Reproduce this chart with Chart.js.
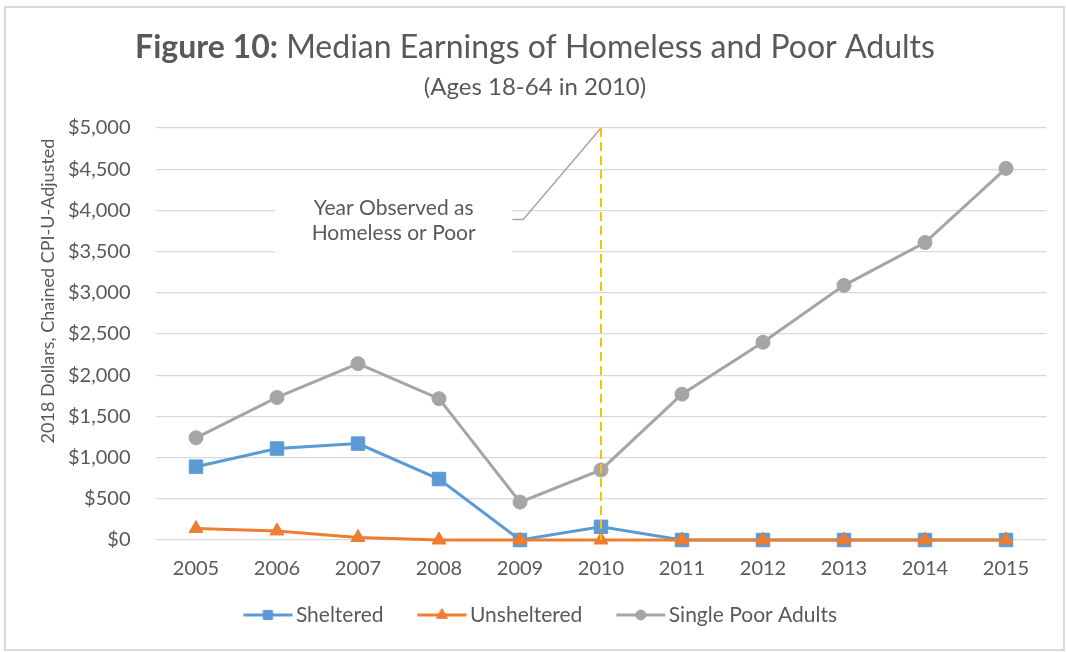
<!DOCTYPE html>
<html>
<head>
<meta charset="utf-8">
<script src="https://cdn.jsdelivr.net/npm/chart.js@4.4.0/dist/chart.umd.min.js"></script>
<style>
  html, body { margin: 0; padding: 0; background: #fff; }
  canvas { display: block; }
</style>
</head>
<body>
<canvas id="earnings-chart" width="1066" height="652"></canvas>
<script>
// Median earnings of homeless and poor adults (ages 18-64 in 2010), 2018 dollars

const years       = ['2005', '2006', '2007', '2008', '2009', '2010', '2011', '2012', '2013', '2014', '2015'];
const sheltered   = [890, 1110, 1170, 740, 0, 160, 0, 0, 0, 0, 0];
const unsheltered = [140, 110, 30, 0, 0, 0, 0, 0, 0, 0, 0];
const singlePoor  = [1240, 1730, 2140, 1715, 460, 850, 1770, 2400, 3090, 3610, 4510];

const seriesNames = ['Sheltered', 'Unsheltered', 'Single Poor Adults'];
const yMin = 0, yMax = 5000, yStep = 500;

const titleBold    = 'Figure 10:';
const titleRest    = ' Median Earnings of Homeless and Poor Adults';
const subtitle     = '(Ages 18-64 in 2010)';
const yAxisTitle   = '2018 Dollars, Chained CPI-U-Adjusted';
const observedYear = '2010';
const calloutLines = ['Year Observed as', 'Homeless or Poor'];

const TEXT = '#595959';
const GRID = '#D9D9D9';
const FONT = 'Lato, "Open Sans", sans-serif';
const BLUE = '#5B9BD5', ORANGE = '#ED7D31', GRAY = '#A5A5A5', GOLD = '#FFC000';

const money = (v) => '$' + Number(v).toLocaleString('en-US');

// ── Legend swatch: short line with the series marker on it ──────────────────
// the swatch box is 66px wide; the line sits in its right part so the
// empty left part acts as spacing between legend entries
function legendIcon(color, style, radius) {
    const c = document.createElement('canvas');
    c.width = 82;
    c.height = 18;
    const g = c.getContext('2d');
    g.strokeStyle = color;
    g.fillStyle = color;
    g.lineWidth = 3;
    g.beginPath();
    g.moveTo(32, 9);
    g.lineTo(81, 9);
    g.stroke();
    g.lineWidth = 1;
    Chart.helpers.drawPoint(g, { pointStyle: style, radius: radius, rotation: 0, borderWidth: 1 }, 56.5, 9);
    return c;
}

// ── Frame, headings and rotated axis title ───────────────────────────────────
const framePlugin = {
    id: 'frame',
    beforeDraw(chart) {
        const ctx = chart.ctx;
        ctx.save();
        ctx.fillStyle = '#fff';
        ctx.fillRect(0, 0, chart.width, chart.height);
        ctx.strokeStyle = '#D9D9D9';
        ctx.lineWidth = 2;
        ctx.strokeRect(5, 7, chart.width - 7, chart.height - 9);

        ctx.fillStyle = TEXT;
        ctx.textBaseline = 'alphabetic';
        ctx.textAlign = 'left';
        ctx.font = 'bold 32px ' + FONT;
        const wb = ctx.measureText(titleBold).width;
        ctx.font = '32px ' + FONT;
        const wr = ctx.measureText(titleRest).width;
        const x0 = 535 - (wb + wr) / 2;
        ctx.font = 'bold 32px ' + FONT;
        ctx.fillText(titleBold, x0, 58);
        ctx.font = '32px ' + FONT;
        ctx.fillText(titleRest, x0 + wb, 58);

        ctx.textAlign = 'center';
        ctx.font = '24px ' + FONT;
        ctx.fillText(subtitle, 535, 95);

        ctx.translate(48, 291);
        ctx.rotate(-Math.PI / 2);
        ctx.textBaseline = 'middle';
        ctx.font = '18px ' + FONT;
        ctx.fillText(yAxisTitle, 0, 0);
        ctx.restore();
    },
    afterLayout(chart) {
        // nudge the legend row a little to the right
        chart.legend.left += 5;
        chart.legend.right += 5;
    }
};

// ── Observed-year marker with its callout ────────────────────────────────────
const observedPlugin = {
    id: 'observed',
    beforeDatasetsDraw(chart) {
        const { ctx, scales: { x, y } } = chart;
        const left = x.getPixelForValue(0.975), right = x.getPixelForValue(3.905);
        const top = y.getPixelForValue(4190), bottom = y.getPixelForValue(3376);
        ctx.save();
        ctx.fillStyle = '#fff';
        ctx.fillRect(left, top, right - left, bottom - top);
        ctx.fillStyle = TEXT;
        ctx.font = '21px ' + FONT;
        ctx.textAlign = 'center';
        ctx.textBaseline = 'alphabetic';
        const cx = x.getPixelForValue(2.44);
        ctx.fillText(calloutLines[0], cx, y.getPixelForValue(3950));
        ctx.fillText(calloutLines[1], cx, y.getPixelForValue(3645));
        ctx.restore();
    },
    afterDatasetsDraw(chart) {
        const { ctx, scales: { x, y } } = chart;
        const px = x.getPixelForValue(years.indexOf(observedYear));
        const top = y.getPixelForValue(yMax), bottom = y.getPixelForValue(yMin);
        ctx.save();
        // leader line from the label to the top of the marker
        const bendX = x.getPixelForValue(4.04), endX = x.getPixelForValue(3.905);
        const bendY = y.getPixelForValue(3890);
        ctx.strokeStyle = '#A6A6A6';
        ctx.lineWidth = 1.5;
        ctx.beginPath();
        ctx.moveTo(endX, bendY);
        ctx.lineTo(bendX, bendY);
        ctx.lineTo(px, top);
        ctx.stroke();

        ctx.strokeStyle = GOLD;
        ctx.lineWidth = 2;
        ctx.setLineDash([9, 5]);
        ctx.beginPath();
        ctx.moveTo(px, top);
        ctx.lineTo(px, bottom);
        ctx.stroke();
        ctx.restore();
    }
};

const seriesStyle = [
    { data: sheltered,   color: BLUE,   point: 'rect',     radius: 9.5, legendRadius: 6.5, order: 3 },
    { data: unsheltered, color: ORANGE, point: 'triangle', radius: 8,   legendRadius: 6.5, order: 2 },
    { data: singlePoor,  color: GRAY,   point: 'circle',   radius: 7,   legendRadius: 5,   order: 1 }
];

const datasets = seriesStyle.map((s, i) => ({
    label: seriesNames[i],
    data: s.data,
    borderColor: s.color,
    backgroundColor: s.color,
    borderWidth: 3,
    pointStyle: s.point,
    pointRadius: s.radius,
    pointBackgroundColor: s.color,
    pointBorderColor: s.color,
    pointBorderWidth: 1,
    tension: 0,
    clip: false,
    order: s.order
}));

new Chart(document.getElementById('earnings-chart'), {
    type: 'line',
    data: { labels: years, datasets: datasets },
    options: {
        responsive: false,
        animation: false,
        layout: { padding: { top: 128, right: 19.5, bottom: 16.5, left: 0 } },
        plugins: {
            legend: {
                position: 'bottom',
                labels: {
                    usePointStyle: true,
                    pointStyleWidth: 66,
                    padding: 10,
                    color: TEXT,
                    font: { family: FONT, size: 21 },
                    generateLabels: (chart) => chart.data.datasets.map((ds, i) => ({
                        text: ds.label,
                        fillStyle: ds.borderColor,
                        strokeStyle: ds.borderColor,
                        fontColor: TEXT,
                        lineWidth: 0,
                        pointStyle: legendIcon(ds.borderColor, ds.pointStyle, seriesStyle[i].legendRadius),
                        hidden: !chart.isDatasetVisible(i),
                        datasetIndex: i
                    }))
                }
            },
            tooltip: { enabled: false }
        },
        scales: {
            x: {
                offset: true,
                grid: { display: false, drawTicks: false },
                border: { display: false },
                ticks: { color: TEXT, font: { family: FONT, size: 20 }, padding: 17 },
                afterFit: (scale) => { scale.height = 54.5; }
            },
            y: {
                min: yMin,
                max: yMax,
                grid: { color: GRID, lineWidth: 1.3, drawTicks: false },
                border: { display: false },
                ticks: {
                    stepSize: yStep,
                    color: TEXT,
                    padding: 25,
                    font: { family: FONT, size: 20 },
                    callback: (v) => money(v)
                },
                afterFit: (scale) => { scale.width = 155.5; }
            }
        }
    },
    plugins: [framePlugin, observedPlugin]
});
</script>
</body>
</html>
